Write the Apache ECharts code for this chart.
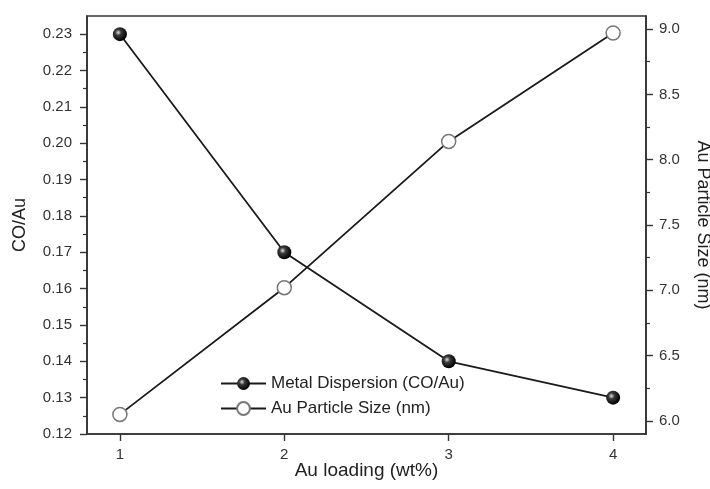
<!DOCTYPE html>
<html>
<head>
<meta charset="utf-8">
<script src="https://cdn.jsdelivr.net/npm/echarts@6/dist/echarts.min.js"></script>
<style>
    html, body { margin: 0; padding: 0; background: #fff; }
    #chart { width: 710px; height: 489px; }
</style>
</head>
<body>
<div id="chart"></div>
<script>
const xValues = [1, 2, 3, 4]
const dispersion = [0.23, 0.17, 0.14, 0.13]
const particleSize = [6.05, 7.02, 8.14, 8.97]

const xTicks = [1, 2, 3, 4]
const leftTicks = [0.12, 0.13, 0.14, 0.15, 0.16, 0.17, 0.18, 0.19, 0.20, 0.21, 0.22, 0.23]
const leftMinor = [0.125, 0.135, 0.145, 0.155, 0.165, 0.175, 0.185, 0.195, 0.205, 0.215, 0.225]
const rightTicks = [6.0, 6.5, 7.0, 7.5, 8.0, 8.5, 9.0]
const rightMinor = [6.25, 6.75, 7.25, 7.75, 8.25, 8.75]

const font = 'Liberation Sans, Arial, sans-serif'
const ink = '#333'

const chart = echarts.init(document.getElementById('chart'))

// black ball with a light spot, like the original markers
const ball = {
    type: 'radial', x: 0.38, y: 0.38, r: 0.62,
    colorStops: [
        { offset: 0, color: '#e0e0e0' },
        { offset: 0.35, color: '#3a3a3a' },
        { offset: 1, color: '#000' }
    ]
}

function yAxisBase(position, min, max) {
    return {
        type: 'value',
        position,
        min,
        max,
        splitLine: { show: false },
        axisLine: { show: true, lineStyle: { color: ink, width: 1.6 } }
    }
}

const option = {
    animation: false,
    textStyle: { fontFamily: font },
    grid: {
        left: 87, right: 64, top: 16, bottom: 55,
        outerBoundsMode: 'none',
        containLabel: false,
        show: true, borderColor: ink, borderWidth: 1.6
    },
    legend: {
        orient: 'vertical',
        left: 215,
        top: 370,
        itemWidth: 45,
        itemHeight: 16,
        itemGap: 8,
        textStyle: { fontSize: 17, color: '#222', fontFamily: font },
        data: ['Metal Dispersion (CO/Au)', 'Au Particle Size (nm)']
    },
    xAxis: {
        type: 'value',
        min: 0.8,
        max: 4.2,
        name: 'Au loading (wt%)',
        nameLocation: 'middle',
        nameGap: 27,
        nameMoveOverlap: false,
        nameTextStyle: { fontSize: 19, color: '#222' },
        splitLine: { show: false },
        axisLine: { onZero: false, lineStyle: { color: ink, width: 1.6 } },
        axisTick: { customValues: xTicks, length: 7, lineStyle: { color: ink, width: 1.4 } },
        axisLabel: { customValues: xTicks, margin: 13, fontSize: 15, color: ink }
    },
    yAxis: [
        Object.assign(yAxisBase('left', 0.12, 0.235), {
            name: 'CO/Au',
            nameLocation: 'middle',
            nameGap: 58,
            nameTextStyle: { fontSize: 18, color: '#222' },
            axisTick: { customValues: leftTicks, length: 7, lineStyle: { color: ink, width: 1.4 } },
            axisLabel: {
                customValues: leftTicks, margin: 15, fontSize: 15, color: ink,
                formatter: v => v.toFixed(2)
            }
        }),
        Object.assign(yAxisBase('right', 5.9, 9.1), {
            name: 'Au Particle Size (nm)',
            nameLocation: 'middle',
            nameRotate: -90,
            nameGap: 48,
            nameTextStyle: { fontSize: 18, color: '#222' },
            axisTick: { customValues: rightTicks, length: 7, lineStyle: { color: ink, width: 1.4 } },
            axisLabel: {
                customValues: rightTicks, margin: 13, fontSize: 15, color: ink,
                formatter: v => v.toFixed(1)
            }
        }),
        // minor ticks only
        Object.assign(yAxisBase('left', 0.12, 0.235), {
            axisLine: { show: false },
            axisLabel: { show: false },
            axisTick: { customValues: leftMinor, length: 4, lineStyle: { color: ink, width: 1.2 } }
        }),
        Object.assign(yAxisBase('right', 5.9, 9.1), {
            axisLine: { show: false },
            axisLabel: { show: false },
            axisTick: { customValues: rightMinor, length: 4, lineStyle: { color: ink, width: 1.2 } }
        })
    ],
    series: [
        {
            name: 'Metal Dispersion (CO/Au)',
            type: 'line',
            yAxisIndex: 0,
            data: xValues.map((x, i) => [x, dispersion[i]]),
            symbol: 'circle',
            symbolSize: 14,
            lineStyle: { color: '#1a1a1a', width: 1.8 },
            itemStyle: { color: ball, borderWidth: 0 },
            z: 3
        },
        {
            name: 'Au Particle Size (nm)',
            type: 'line',
            yAxisIndex: 1,
            data: xValues.map((x, i) => [x, particleSize[i]]),
            symbol: 'circle',
            symbolSize: 14,
            lineStyle: { color: '#1a1a1a', width: 1.8 },
            itemStyle: { color: '#fff', borderColor: '#777', borderWidth: 1.5 },
            z: 2
        }
    ]
}

chart.setOption(option)
</script>
</body>
</html>
